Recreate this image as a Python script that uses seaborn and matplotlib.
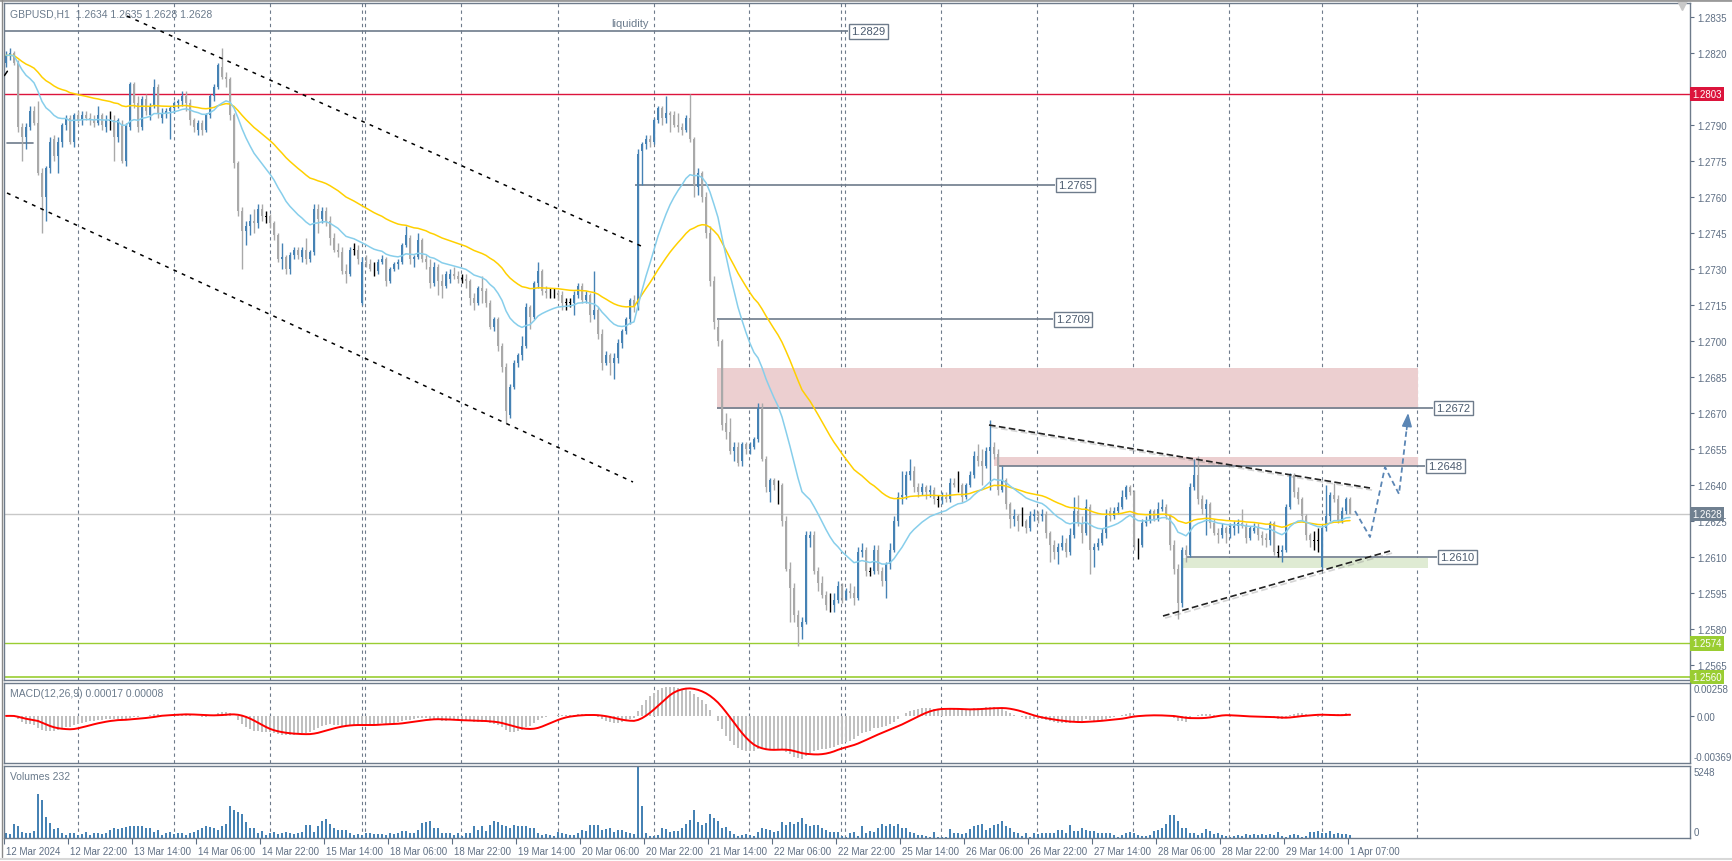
import numpy as np
import pandas as pd
import seaborn as sns
import matplotlib.pyplot as plt
import matplotlib.patheffects as pe
from matplotlib.patches import Rectangle
from matplotlib.lines import Line2D
from matplotlib.transforms import blended_transform_factory, ScaledTranslation

# GBPUSD H1, 12 Mar 2024 06:00 -> 1 Apr 2024 07:00
# prices are pips above 1.2500 (e.g. 128 -> 1.2628)
opens = [
    316, 319, 320, 316, 289, 285, 289, 296, 291, 270,  # 0
    260, 272, 284, 277, 283, 290, 293, 283, 294, 292,  # 10
    294, 293, 292, 291, 294, 289, 292, 292, 285, 290,  # 20
    275, 289, 307, 299, 289, 301, 294, 298, 306, 293,  # 30
    295, 296, 297, 299, 300, 302, 299, 292, 288, 291,  # 40
    288, 294, 302, 306, 314, 310, 309, 294, 274, 254,  # 50
    246, 248, 250, 249, 255, 252, 252, 249, 244, 234,  # 60
    235, 230, 236, 238, 235, 238, 234, 237, 255, 251,  # 70
    254, 250, 243, 238, 237, 229, 228, 238, 238, 216,  # 80
    233, 232, 230, 229, 233, 234, 225, 230, 232, 233,  # 90
    240, 243, 234, 235, 242, 234, 231, 224, 231, 225,  # 100
    223, 226, 228, 227, 226, 226, 225, 218, 216, 222,  # 110
    221, 216, 206, 209, 198, 189, 169, 181, 191, 194,  # 120
    198, 214, 210, 224, 229, 221, 220, 220, 220, 219,  # 130
    216, 216, 216, 219, 223, 217, 219, 211, 213, 203,  # 140
    191, 194, 191, 193, 199, 204, 209, 217, 214, 279,  # 150
    282, 284, 283, 292, 297, 293, 295, 294, 290, 289,  # 160
    288, 293, 284, 264, 270, 260, 245, 225, 206, 200,  # 170
    166, 162, 154, 156, 150, 157, 155, 156, 159, 172,  # 180
    151, 137, 142, 140, 140, 125, 105, 97, 86, 81,  # 190
    83, 118, 119, 104, 99, 94, 90, 90, 92, 98,  # 200
    93, 96, 95, 93, 112, 113, 104, 104, 113, 104,  # 210
    100, 107, 113, 125, 135, 136, 144, 146, 139, 137,  # 220
    139, 137, 138, 134, 134, 135, 134, 141, 140, 140,  # 230
    135, 140, 144, 152, 150, 148, 154, 156, 153, 138,  # 240
    142, 132, 126, 127, 125, 125, 122, 127, 128, 127,  # 250
    128, 120, 115, 112, 114, 116, 112, 119, 129, 124,  # 260
    120, 131, 113, 114, 116, 120, 129, 127, 129, 131,  # 270
    135, 139, 137, 115, 115, 124, 125, 129, 126, 130,  # 280
    131, 127, 115, 105, 91, 113, 111, 139, 144, 134,  # 290
    130, 132, 124, 120, 119, 122, 120, 122, 123, 124,  # 300
    123, 118, 121, 122, 119, 118, 117, 124, 112, 112,  # 310
    113, 131, 144, 137, 134, 127, 119, 117, 117, 106,  # 320
    122, 127, 136, 134, 125, 129, 134,  # 330
]
highs = [
    321, 322, 321, 317, 291, 291, 298, 298, 300, 272,
    273, 285, 286, 285, 291, 294, 294, 295, 296, 296,
    296, 295, 294, 298, 295, 294, 296, 294, 293, 292,
    291, 308, 308, 302, 302, 303, 299, 309, 307, 297,
    297, 298, 300, 301, 304, 304, 301, 293, 292, 292,
    295, 303, 307, 316, 322, 312, 310, 295, 275, 256,
    250, 253, 255, 257, 257, 254, 253, 250, 245, 241,
    236, 237, 239, 239, 239, 243, 238, 257, 257, 256,
    256, 252, 245, 241, 239, 232, 239, 241, 240, 235,
    236, 234, 233, 234, 236, 235, 231, 233, 234, 241,
    248, 244, 236, 245, 243, 236, 234, 233, 232, 228,
    229, 230, 231, 229, 228, 228, 226, 220, 223, 227,
    222, 217, 210, 210, 199, 191, 182, 192, 195, 202,
    216, 215, 225, 233, 230, 223, 222, 222, 221, 221,
    218, 218, 221, 224, 224, 221, 220, 229, 214, 205,
    196, 195, 195, 201, 205, 210, 218, 219, 280, 283,
    286, 286, 293, 298, 298, 302, 296, 296, 295, 291,
    294, 303, 285, 272, 271, 262, 248, 227, 209, 201,
    170, 168, 158, 158, 158, 158, 158, 160, 174, 174,
    152, 143, 143, 142, 141, 127, 108, 99, 88, 85,
    121, 121, 121, 106, 102, 96, 95, 95, 100, 99,
    97, 99, 98, 114, 116, 114, 106, 115, 115, 106,
    108, 116, 127, 137, 146, 146, 151, 148, 141, 141,
    140, 140, 139, 136, 137, 137, 143, 143, 146, 141,
    141, 146, 154, 157, 155, 156, 167, 158, 155, 148,
    143, 133, 130, 128, 131, 126, 129, 130, 129, 130,
    129, 121, 117, 116, 119, 118, 122, 135, 136, 127,
    134, 132, 116, 118, 122, 130, 131, 131, 133, 138,
    140, 140, 138, 118, 126, 127, 130, 130, 133, 134,
    132, 128, 117, 107, 114, 115, 141, 151, 152, 136,
    134, 133, 126, 122, 124, 123, 124, 125, 126, 130,
    124, 123, 124, 124, 121, 120, 125, 125, 115, 115,
    132, 145, 145, 139, 135, 128, 120, 121, 122, 123,
    140, 137, 141, 136, 131, 135, 135,
]
lows = [
    314, 317, 315, 287, 275, 280, 288, 290, 269, 245,
    250, 270, 275, 270, 281, 288, 282, 281, 291, 290,
    292, 290, 289, 290, 288, 287, 288, 275, 283, 274,
    273, 288, 297, 287, 288, 294, 292, 297, 293, 291,
    293, 284, 295, 297, 298, 296, 290, 287, 286, 286,
    287, 293, 300, 305, 309, 306, 292, 272, 252, 230,
    240, 244, 245, 247, 250, 249, 247, 242, 233, 230,
    228, 228, 234, 234, 233, 232, 233, 236, 245, 249,
    248, 240, 237, 235, 228, 224, 227, 236, 232, 215,
    231, 229, 227, 228, 232, 223, 224, 229, 230, 232,
    239, 232, 231, 234, 233, 230, 222, 223, 219, 218,
    222, 224, 226, 224, 224, 222, 215, 213, 215, 216,
    214, 205, 204, 196, 187, 166, 168, 180, 189, 192,
    197, 205, 209, 222, 219, 218, 218, 218, 217, 213,
    213, 214, 211, 218, 216, 216, 208, 209, 201, 188,
    190, 186, 184, 191, 197, 203, 207, 212, 213, 265,
    280, 281, 282, 291, 290, 291, 287, 289, 287, 286,
    287, 283, 260, 261, 258, 243, 223, 205, 198, 163,
    159, 153, 150, 148, 148, 153, 153, 155, 158, 150,
    137, 133, 138, 132, 123, 104, 83, 83, 73, 76,
    82, 114, 103, 96, 93, 88, 87, 87, 91, 91,
    92, 93, 90, 92, 110, 102, 102, 103, 103, 98,
    93, 105, 112, 123, 132, 134, 142, 137, 135, 136,
    134, 135, 132, 131, 132, 133, 133, 139, 137, 133,
    134, 139, 143, 148, 140, 147, 138, 151, 136, 137,
    130, 122, 123, 121, 123, 120, 121, 125, 124, 125,
    118, 108, 109, 107, 113, 110, 111, 118, 123, 116,
    119, 103, 106, 113, 115, 118, 125, 126, 128, 130,
    134, 136, 113, 109, 114, 123, 124, 125, 125, 129,
    126, 113, 103, 84, 89, 108, 110, 138, 132, 128,
    119, 122, 119, 116, 118, 116, 118, 119, 120, 122,
    116, 117, 120, 117, 115, 114, 115, 111, 110, 108,
    112, 130, 135, 132, 125, 117, 114, 113, 112, 105,
    121, 125, 133, 124, 124, 128, 128,
]
closes = [
    319, 320, 316, 289, 285, 289, 296, 291, 270, 260,
    272, 283, 277, 283, 290, 293, 283, 294, 292, 294,
    293, 292, 291, 294, 290, 292, 292, 285, 292, 275,
    290, 307, 299, 289, 301, 296, 298, 306, 295, 295,
    296, 297, 299, 300, 302, 299, 292, 289, 291, 288,
    294, 302, 306, 315, 310, 309, 294, 274, 254, 246,
    248, 250, 249, 255, 252, 252, 249, 244, 234, 235,
    230, 236, 238, 236, 238, 234, 237, 255, 251, 254,
    250, 243, 238, 237, 229, 228, 238, 238, 234, 233,
    232, 230, 230, 233, 234, 225, 230, 232, 233, 240,
    244, 234, 235, 242, 234, 233, 224, 231, 225, 223,
    228, 228, 227, 226, 226, 225, 218, 216, 222, 221,
    216, 206, 209, 198, 189, 171, 181, 191, 194, 198,
    214, 210, 224, 229, 221, 220, 220, 220, 219, 216,
    216, 216, 219, 223, 217, 219, 211, 213, 203, 191,
    194, 191, 193, 199, 204, 209, 217, 214, 278, 282,
    284, 283, 292, 297, 293, 295, 294, 290, 289, 288,
    293, 284, 265, 270, 260, 245, 225, 208, 200, 165,
    162, 154, 156, 149, 157, 155, 156, 159, 172, 151,
    139, 142, 140, 140, 125, 105, 97, 86, 81, 83,
    119, 119, 104, 99, 94, 90, 90, 92, 98, 93,
    96, 95, 93, 112, 113, 104, 104, 113, 104, 100,
    107, 113, 125, 135, 136, 144, 146, 139, 137, 139,
    137, 138, 134, 134, 135, 134, 141, 140, 140, 135,
    140, 144, 152, 150, 148, 154, 156, 153, 138, 142,
    132, 126, 127, 125, 125, 122, 127, 128, 127, 128,
    120, 115, 112, 114, 116, 112, 119, 129, 124, 120,
    131, 113, 114, 116, 120, 127, 127, 129, 131, 135,
    139, 137, 115, 115, 124, 125, 129, 126, 130, 131,
    127, 115, 105, 91, 113, 111, 139, 144, 134, 130,
    132, 124, 120, 119, 122, 120, 122, 123, 124, 123,
    118, 122, 122, 119, 118, 117, 124, 112, 112, 113,
    131, 144, 137, 134, 127, 119, 117, 117, 117, 122,
    127, 136, 134, 125, 129, 134, 128,
]
volumes = [
    400, 290, 1000, 870, 470, 400, 350, 500, 3230, 2750,
    1520, 1080, 680, 760, 390, 210, 390, 340, 210, 290,
    470, 210, 340, 390, 290, 340, 600, 700, 650, 760,
    800, 870, 870, 870, 900, 700, 760, 470, 600, 210,
    340, 470, 290, 340, 390, 210, 340, 470, 600, 735,
    870, 800, 700, 600, 870, 1000, 2335, 2020, 1915, 1785,
    1180, 710, 710, 340, 520, 210, 390, 470, 300, 390,
    420, 340, 290, 390, 470, 920, 920, 470, 870, 1260,
    1390, 1000, 735, 600, 600, 550, 400, 210, 300, 210,
    340, 390, 290, 290, 260, 210, 340, 290, 390, 520,
    525, 390, 340, 600, 1075, 1130, 1235, 760, 760, 400,
    390, 390, 210, 390, 130, 340, 340, 870, 600, 870,
    525, 945, 1260, 1130, 945, 870, 700, 918, 870, 870,
    870, 735, 735, 394, 210, 290, 210, 131, 472, 394,
    289, 210, 210, 394, 600, 500, 918, 918, 918, 600,
    650, 700, 472, 604, 604, 472, 394, 300, 5248, 2335,
    394, 131, 131, 210, 735, 656, 472, 525, 525, 735,
    997, 1312, 2020, 1181, 970, 1075, 1785, 1445, 1260, 735,
    780, 525, 289, 131, 210, 300, 210, 131, 472, 735,
    656, 604, 472, 525, 1181, 945, 1181, 1050, 1181, 1470,
    997, 866, 945, 945, 700, 600, 472, 472, 472, 131,
    100, 341, 472, 131, 866, 341, 525, 472, 735, 997,
    866, 997, 866, 997, 735, 735, 472, 341, 210, 210,
    131, 79, 472, 79, 79, 79, 656, 394, 341, 260,
    341, 656, 866, 918, 997, 604, 735, 918, 997, 1260,
    866, 735, 472, 394, 131, 394, 79, 394, 289, 341,
    394, 341, 394, 604, 604, 394, 918, 525, 525, 735,
    604, 525, 525, 341, 394, 394, 341, 210, 79, 210,
    340, 472, 394, 210, 131, 131, 210, 525, 604, 735,
    997, 1653, 1653, 1260, 735, 735, 394, 394, 210, 394,
    656, 525, 289, 341, 210, 131, 79, 131, 210, 131,
    289, 210, 289, 210, 289, 210, 289, 210, 472, 131,
    79, 210, 289, 210, 79, 131, 472, 472, 525, 394,
    341, 525, 289, 394, 289, 289, 232,
]

time_labels = ['12 Mar 2024', '12 Mar 22:00', '13 Mar 14:00', '14 Mar 06:00', '14 Mar 22:00',
               '15 Mar 14:00', '18 Mar 06:00', '18 Mar 22:00', '19 Mar 14:00', '20 Mar 06:00',
               '20 Mar 22:00', '21 Mar 14:00', '22 Mar 06:00', '22 Mar 22:00', '25 Mar 14:00',
               '26 Mar 06:00', '26 Mar 22:00', '27 Mar 14:00', '28 Mar 06:00', '28 Mar 22:00',
               '29 Mar 14:00', '1 Apr 07:00']
label_bars = [0, 16, 32, 48, 64, 80, 96, 112, 128, 144, 160, 176, 192, 208, 224,
              240, 256, 272, 288, 304, 320, 336]

# day separators (bar positions)
day_lines = [18, 42, 66, 89, 89.8, 113.8, 138, 162, 185.8, 208.8, 209.8, 233.8,
             257.8, 281.8, 305.8, 329, 352.8]

# drawn levels: price, start bar, label bar
levels = [(1.2829, -1.5, 210.5), (1.2765, 157.25, 262.3), (1.2709, 177.75, 261.8),
          (1.2672, 177.75, 356.8), (1.2648, 248.25, 354.8), (1.2610, 295.25, 357.8)]

BLUE = '#4682B4'
GREY = '#A9A9A9'
FRAME = '#6E7B8B'
TXT = '#5F6F84'

sns.set_style('white')
plt.rcParams['font.family'] = ['Liberation Sans', 'DejaVu Sans']

o = 1.25 + np.array(opens) / 1e4
h = 1.25 + np.array(highs) / 1e4
l = 1.25 + np.array(lows) / 1e4
c = 1.25 + np.array(closes) / 1e4
x = np.arange(len(c))

close_s = pd.Series(c)
ma_fast = close_s.ewm(span=20, adjust=False).mean()
ma_slow = close_s.ewm(span=50, adjust=False).mean()
macd = close_s.ewm(span=12, adjust=False).mean() - close_s.ewm(span=26, adjust=False).mean()
signal = macd.rolling(9, min_periods=1).mean()

W, H = 1733, 862
fig = plt.figure(figsize=(W / 100, H / 100), dpi=100)


def px_axes(x0, y0, x1, y1):
    return fig.add_axes([x0 / W, 1 - y1 / H, (x1 - x0) / W, (y1 - y0) / H])


ax = px_axes(4, 4, 1690, 681)
mac = px_axes(4, 684, 1690, 764)
vol = px_axes(4, 767, 1690, 839)

XMIN, XMAX = -0.5, 421.0
for a in (ax, mac, vol):
    a.set_xlim(XMIN, XMAX)
    for s in a.spines.values():
        s.set_color(FRAME)
        s.set_linewidth(1)
    for d in day_lines:
        a.axvline(d, color=FRAME, lw=0.8, ls=(0, (3, 3)), zorder=1)

# ---- main price panel ----
ax.set_ylim(1.255875, 1.284083)

ax.add_patch(Rectangle((177.75, 1.26717), 353 - 177.75, 1.26888 - 1.26717,
                       fc='#ECCFD0', ec='none', zorder=1.5))
ax.add_patch(Rectangle((247, 1.26479), 353 - 247, 1.26517 - 1.26479,
                       fc='#ECCFD0', ec='none', zorder=1.5))
ax.add_patch(Rectangle((294, 1.26054), 355.5 - 294, 1.26096 - 1.26054,
                       fc='#DFEBD3', ec='none', zorder=1.5))

ax.axhline(1.2628, color='#C8C8C8', lw=1, zorder=1.6)
ax.axhline(1.2803, color='#DC143C', lw=1, zorder=1.6)
ax.axhline(1.2574, color='#9ACD32', lw=1, zorder=1.6)
ax.axhline(1.2560, color='#9ACD32', lw=1.2, zorder=1.6)
ax.plot([0.25, 6.75], [1.27825, 1.27825], color=FRAME, lw=1.2, zorder=1.7)

for price, x0, xlab in levels:
    ax.plot([x0, xlab], [price, price], color=FRAME, lw=1.2, zorder=1.7, solid_capstyle='butt')
    ax.text(xlab + 0.8, price, f'{price:.4f}', ha='left', va='center', fontsize=8, color='#4A5A6E',
            zorder=7, bbox=dict(boxstyle='square,pad=0.2', fc='white', ec=FRAME, lw=1))

# candles
colors = np.where(c > o, BLUE, np.where(c < o, GREY, 'black'))
flat = c == o
ax.vlines(x, l, h, colors=colors, lw=1, zorder=3)
body_h = np.where(flat, 0.00004, np.abs(c - o))
body_b = np.minimum(o, c) - np.where(flat, 0.00002, 0)
ax.bar(x, body_h, bottom=body_b, width=0.72, color=colors, linewidth=0, zorder=4)

sns.lineplot(x=x, y=ma_slow.values, ax=ax, color='#FFD000', lw=1.1, zorder=5)
sns.lineplot(x=x, y=ma_fast.values, ax=ax, color='#87CEEB', lw=1.1, zorder=5)

# channel
ax.plot([30.25, 158.75], [1.28354, 1.27396], color='black', lw=1.1, ls=(0, (2.5, 3.5)), zorder=6)
ax.plot([0.25, 156.75], [1.276167, 1.264125], color='black', lw=1.1, ls=(0, (2.5, 3.5)), zorder=6)
ax.plot([-0.4, 0.35], [1.28106, 1.28124], color='black', lw=1.1, zorder=6)

# triangle
shadow = [pe.SimpleLineShadow(offset=(1.5, -1.5), shadow_color='#888888', alpha=0.35), pe.Normal()]
ax.plot([245.75, 341], [1.2665, 1.263875], color='#222222', lw=1.2, ls=(0, (4, 2)),
        zorder=6, path_effects=shadow)
ax.plot([289.25, 346], [1.258542, 1.26125], color='#222222', lw=1.2, ls=(0, (4, 2)),
        zorder=6, path_effects=shadow)

# projected path
proj_bars = [337.25, 341, 344.75, 348.25, 350.2]
proj_prices = [1.262917, 1.261833, 1.264750, 1.263625, 1.26640]
ax.plot(proj_bars, proj_prices, color='#5B86B5', lw=1.3, ls=(0, (3, 2)), zorder=6)
ax.annotate('', xy=(350.6, 1.26712), xytext=(350.1, 1.26620),
            arrowprops=dict(arrowstyle='-|>,head_width=0.3,head_length=0.8',
                            color='#5B86B5', lw=1.2), zorder=6)

ax.text(156, 1.28325, 'liquidity', ha='center', va='center', fontsize=8, color='#6B7B8C')
ax.text(0.0034, 0.9925, 'GBPUSD,H1  1.2634 1.2635 1.2628 1.2628', transform=ax.transAxes,
        ha='left', va='top', fontsize=7.5, color='#6B7B8C')
ax.plot([0.9953], [0.997], transform=ax.transAxes, marker='v', ms=7, color='#C8C8C8',
        clip_on=False, zorder=8)

ax.yaxis.tick_right()
yt = [round(1.2565 + 0.0015 * k, 4) for k in range(19)]
ax.set_yticks(yt)
# 1.2805 sits under the red price box, as in the terminal
ax.set_yticklabels(['' if v == 1.2805 else f'{v:.4f}' for v in yt])
ax.tick_params(axis='y', labelsize=7, labelcolor=TXT, color=TXT, length=3, width=0.8, pad=2)
ax.set_xticks([])

yb = blended_transform_factory(ax.transAxes, ax.transData)
for price, col in [(1.2803, '#DC143C'), (1.2628, '#708090'), (1.2574, '#9ACD32'), (1.2560, '#9ACD32')]:
    ax.text(1.0015, price, f'{price:.4f}', transform=yb, ha='left', va='center', fontsize=7,
            color='white', zorder=9, clip_on=False,
            bbox=dict(boxstyle='square,pad=0.22', fc=col, ec='none'))

# ---- MACD panel ----
mac.bar(x, macd.values, width=0.6, color='#C0C0C0', linewidth=0, zorder=2)
sns.lineplot(x=x, y=signal.values, ax=mac, color='#FF0000', lw=1.4, zorder=3)
mac.set_ylim(-0.00369, 0.00258)
mac.yaxis.tick_right()
mac.set_yticks([0])
mac.set_yticklabels(['0.00'])
mac.tick_params(axis='y', labelsize=7, labelcolor=TXT, color=TXT, length=3, width=0.8, pad=2)
mac.set_xticks([])
mac.text(0.0036, 0.94, 'MACD(12,26,9) 0.00017 0.00008', transform=mac.transAxes,
         ha='left', va='top', fontsize=7.5, color='#6B7B8C')
mac.text(1.002, 0.93, '0.00258', transform=mac.transAxes, ha='left', va='center',
         fontsize=7, color=TXT)
mac.text(1.002, 0.08, '-0.00369', transform=mac.transAxes, ha='left', va='center',
         fontsize=7, color=TXT)

# ---- volume panel ----
vol.bar(x, volumes, width=0.6, color=BLUE, linewidth=0, zorder=2)
vol.set_ylim(0, 5248)
vol.set_yticks([])
vol.text(0.0036, 0.93, 'Volumes 232', transform=vol.transAxes,
         ha='left', va='top', fontsize=7.5, color='#6B7B8C')
vol.text(1.002, 0.91, '5248', transform=vol.transAxes, ha='left', va='center',
         fontsize=7, color=TXT)
vol.text(1.002, 0.09, '0', transform=vol.transAxes, ha='left', va='center',
         fontsize=7, color=TXT)

vol.set_xticks([b - 0.5 for b in label_bars])
vol.set_xticklabels(time_labels)
vol.tick_params(axis='x', labelsize=7, labelcolor=TXT, color=TXT, length=4, width=0.8,
                pad=2, bottom=True)
shift = ScaledTranslation(2 / 100, 0, fig.dpi_scale_trans)
for lbl in vol.get_xticklabels():
    lbl.set_horizontalalignment('left')
    lbl.set_transform(lbl.get_transform() + shift)

# window frame
fig.add_artist(Line2D([0, 1], [1 - 1 / H, 1 - 1 / H], color='#9A9A9A', lw=2, transform=fig.transFigure))
fig.add_artist(Line2D([2 / W, 2 / W], [0.005, 1], color='#8A8A8A', lw=1, transform=fig.transFigure))
fig.add_artist(Line2D([0, 1], [2 / H, 2 / H], color='#D8D8D8', lw=1.5, transform=fig.transFigure))

fig.savefig('out.png', dpi=100)
